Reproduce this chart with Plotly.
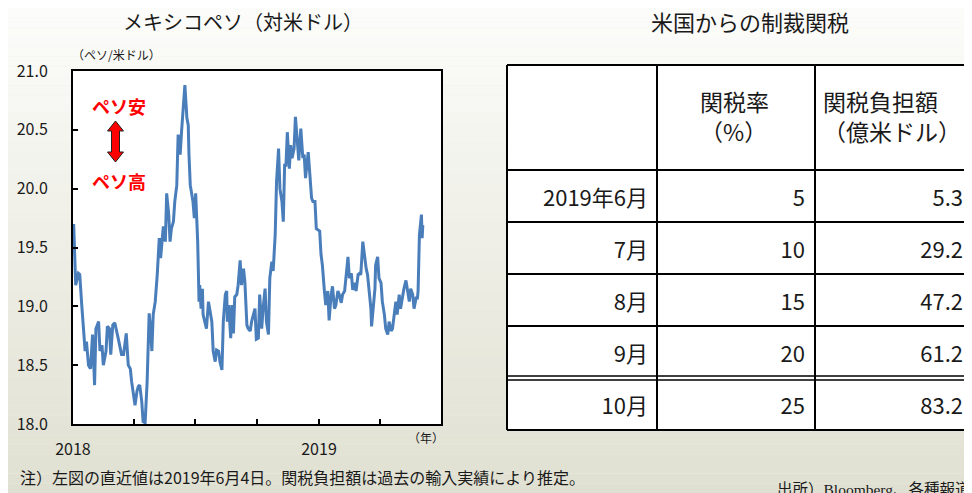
import plotly.graph_objects as go

# the page body adds an 8px margin; the figure fills the rest of the 972x493 window
OFF = 8
W, H = 972 - OFF, 493 - OFF

# ---------------- data ----------------
dates = [
    "2018-01-02", "2018-01-04", "2018-01-05", "2018-01-09", "2018-01-11", "2018-01-14", "2018-01-16",
    "2018-01-19", "2018-01-21", "2018-01-24", "2018-01-27", "2018-01-30", "2018-02-02", "2018-02-04",
    "2018-02-08", "2018-02-10", "2018-02-13", "2018-02-15", "2018-02-19", "2018-02-21", "2018-02-24",
    "2018-02-26", "2018-03-01", "2018-03-04", "2018-03-09", "2018-03-14", "2018-03-17", "2018-03-21",
    "2018-03-24", "2018-03-27", "2018-03-29", "2018-04-01", "2018-04-03", "2018-04-06", "2018-04-08",
    "2018-04-10", "2018-04-13", "2018-04-15", "2018-04-18", "2018-04-21", "2018-04-24", "2018-04-26",
    "2018-04-28", "2018-04-30", "2018-05-03", "2018-05-06", "2018-05-09", "2018-05-11", "2018-05-13",
    "2018-05-15", "2018-05-18", "2018-05-20", "2018-05-23", "2018-05-25", "2018-05-27", "2018-05-30",
    "2018-06-01", "2018-06-04", "2018-06-06", "2018-06-09", "2018-06-11", "2018-06-14", "2018-06-16",
    "2018-06-19", "2018-06-21", "2018-06-22", "2018-06-24", "2018-06-28", "2018-06-30", "2018-07-02",
    "2018-07-05", "2018-07-07", "2018-07-08", "2018-07-10", "2018-07-12", "2018-07-13", "2018-07-16",
    "2018-07-18", "2018-07-21", "2018-07-23", "2018-07-26", "2018-07-28", "2018-07-31", "2018-08-02",
    "2018-08-05", "2018-08-07", "2018-08-10", "2018-08-12", "2018-08-15", "2018-08-17", "2018-08-18",
    "2018-08-20", "2018-08-23", "2018-08-25", "2018-08-27", "2018-08-29", "2018-09-01", "2018-09-03",
    "2018-09-06", "2018-09-08", "2018-09-11", "2018-09-13", "2018-09-16", "2018-09-18", "2018-09-21",
    "2018-09-23", "2018-09-26", "2018-09-28", "2018-09-30", "2018-10-03", "2018-10-05", "2018-10-08",
    "2018-10-10", "2018-10-13", "2018-10-15", "2018-10-18", "2018-10-20", "2018-10-23", "2018-10-25",
    "2018-10-28", "2018-10-30", "2018-11-02", "2018-11-04", "2018-11-07", "2018-11-09", "2018-11-11",
    "2018-11-13", "2018-11-15", "2018-11-18", "2018-11-20", "2018-11-22", "2018-11-25", "2018-11-27",
    "2018-11-30", "2018-12-02", "2018-12-05", "2018-12-08", "2018-12-10", "2018-12-12", "2018-12-16",
    "2018-12-18", "2018-12-21", "2018-12-23", "2018-12-26", "2018-12-28", "2018-12-31",
    "2019-01-02", "2019-01-04", "2019-01-06", "2019-01-09", "2019-01-11", "2019-01-14", "2019-01-16",
    "2019-01-19", "2019-01-21", "2019-01-24", "2019-01-26", "2019-01-29", "2019-01-31", "2019-02-03",
    "2019-02-05", "2019-02-08", "2019-02-10", "2019-02-13", "2019-02-15", "2019-02-18", "2019-02-20",
    "2019-02-23", "2019-02-25", "2019-02-28", "2019-03-02", "2019-03-04", "2019-03-07", "2019-03-09",
    "2019-03-12", "2019-03-14", "2019-03-16", "2019-03-19", "2019-03-20", "2019-03-23", "2019-03-25",
    "2019-03-26", "2019-03-29", "2019-03-31", "2019-04-03", "2019-04-05", "2019-04-08", "2019-04-10",
    "2019-04-13", "2019-04-15", "2019-04-18", "2019-04-20", "2019-04-23", "2019-04-25", "2019-04-27",
    "2019-04-30", "2019-05-02", "2019-05-05", "2019-05-07", "2019-05-10", "2019-05-12", "2019-05-15",
    "2019-05-17", "2019-05-20", "2019-05-22", "2019-05-25", "2019-05-27", "2019-05-28", "2019-05-30",
    "2019-06-02", "2019-06-03", "2019-06-04",
]
mxn_per_usd = [
    19.70, 19.44, 19.18, 19.28, 19.27, 19.01, 18.81,
    18.62, 18.70, 18.50, 18.47, 18.76, 18.33, 18.81,
    18.87, 18.62, 18.67, 18.50, 18.62, 18.83, 18.81,
    18.59, 18.84, 18.86, 18.73, 18.59, 18.59, 18.77,
    18.50, 18.47, 18.36, 18.25, 18.16, 18.28, 18.32,
    18.33, 18.19, 18.02, 18.01, 18.36, 18.94, 18.81,
    18.62, 18.93, 19.04, 19.27, 19.58, 19.41, 19.55,
    19.68, 19.55, 19.96, 19.78, 19.55, 19.66, 19.72,
    19.89, 20.03, 20.46, 20.29, 20.48, 20.68, 20.88,
    20.60, 20.54, 20.30, 20.03, 19.89, 19.75, 19.96,
    19.55, 19.04, 19.18, 18.98, 19.15, 18.93, 18.87,
    18.81, 19.04, 18.98, 18.87, 18.62, 18.53, 18.63,
    18.62, 18.53, 18.46, 18.87, 19.10, 19.13, 18.87,
    19.01, 18.73, 19.01, 18.77, 19.08, 19.10, 19.18,
    19.39, 19.18, 19.32, 19.21, 18.84, 18.81, 18.79,
    18.87, 18.93, 18.98, 18.72, 18.73, 19.10, 18.81,
    18.98, 19.15, 18.87, 18.76, 19.24, 19.38, 19.30,
    19.61, 20.06, 20.34, 20.00, 19.89, 19.72, 20.20,
    20.20, 20.48, 20.17, 20.37, 20.26, 20.34, 20.61,
    20.37, 20.24, 20.51, 20.26, 20.29, 20.09, 20.31,
    20.12, 19.92, 19.89, 19.89, 19.66, 19.65,
    19.64, 19.44, 19.35, 19.13, 19.01, 19.13, 18.88,
    19.10, 19.17, 18.98, 19.01, 19.13, 19.10, 19.03,
    19.10, 19.13, 19.27, 19.42, 19.24, 19.28, 19.14,
    19.20, 19.13, 19.27, 19.28, 19.27, 19.55, 19.44,
    19.32, 19.27, 19.13, 18.98, 18.83, 19.04, 19.15,
    19.35, 19.42, 19.24, 19.20, 19.04, 18.93, 18.81,
    18.76, 18.87, 18.79, 18.81, 18.98, 19.04, 18.93,
    19.10, 18.98, 19.10, 19.15, 19.22, 19.15, 19.04,
    19.15, 19.10, 18.98, 19.07, 19.07, 19.13, 19.61,
    19.78, 19.58, 19.69,
]

x_tickvals = ["2018-01-01", "2018-04-01", "2018-07-01", "2018-10-01",
              "2019-01-01", "2019-04-01", "2019-07-01"]
x_ticktext = ["2018", "", "", "", "2019", "", ""]
y_tickvals = [18.0, 18.5, 19.0, 19.5, 20.0, 20.5, 21.0]

table_header = ["", "関税率<br>（%）", "関税負担額<br>（億米ドル）"]
table_months = ["2019年6月", "7月", "8月", "9月", "10月"]
tariff_rate_pct = [5, 10, 15, 20, 25]
tariff_burden_100m_usd = [5.3, 29.2, 47.2, 61.2, 83.2]

# ---------------- helpers (screen pixel -> paper) ----------------
def fx(p):
    return (p - OFF) / W

def fy(p):
    return 1 - (p - OFF) / H

JP = "Noto Sans CJK JP"
TXT = "#1a1a1a"

fig = go.Figure()

fig.add_trace(go.Scatter(
    x=dates, y=mxn_per_usd, mode="lines",
    line=dict(color="#4a7ebb", width=3),
    hoverinfo="x+y", showlegend=False,
))

# table (grid lines drawn as shapes so text can be vertically centred)
TB_L, TB_R = 507, 972
TB_T, HDR_B = 65, 170
ROW_H = 52
TXT_SHIFT = 11
COL_X = [507, 657, 815, 974]
fig.add_trace(go.Table(
    domain=dict(x=[fx(TB_L), 1.0], y=[0.0, fy(TB_T + TXT_SHIFT)]),
    columnwidth=[COL_X[i + 1] - COL_X[i] for i in range(3)],
    header=dict(
        values=table_header, height=HDR_B - TB_T, align="center",
        line=dict(color="rgba(0,0,0,0)", width=0), fill=dict(color="rgba(0,0,0,0)"),
        font=dict(family=JP, size=23, color=TXT),
    ),
    cells=dict(
        values=[table_months, tariff_rate_pct, tariff_burden_100m_usd],
        format=["", "", ".1f"],
        height=ROW_H, align="right",
        line=dict(color="rgba(0,0,0,0)", width=0), fill=dict(color="rgba(0,0,0,0)"),
        font=dict(family=JP, size=22, color=TXT),
    ),
))

# background gradient bands
shapes = []
N = 50
top = (252, 252, 250)
bot = (224, 224, 210)
for i in range(N):
    t = i / (N - 1)
    c = tuple(round(top[k] + (bot[k] - top[k]) * t) for k in range(3))
    shapes.append(dict(
        type="rect", xref="paper", yref="paper", layer="below",
        x0=-0.1, x1=1.1, y0=1 - (i + 1) / N, y1=1 - i / N,
        fillcolor="rgb(%d,%d,%d)" % c, line=dict(width=0),
    ))
# white plot area
shapes.append(dict(type="rect", xref="x domain", yref="y domain", layer="below",
                   x0=0, x1=1, y0=0, y1=1, fillcolor="white", line=dict(width=0)))

# table box and grid
n_rows = len(table_months)
TB_B = HDR_B + ROW_H * n_rows
shapes.append(dict(type="rect", xref="paper", yref="paper", layer="below",
                   x0=fx(TB_L), x1=1.0, y0=fy(TB_B), y1=fy(TB_T),
                   fillcolor="white", line=dict(width=0)))
LW = 2

def hline(y, x0=TB_L, x1=TB_R, w=LW):
    shapes.append(dict(type="line", xref="paper", yref="paper", x0=fx(x0), x1=fx(x1),
                       y0=fy(y), y1=fy(y), line=dict(color="black", width=w)))

def vline(x, y0=TB_T, y1=TB_B, w=LW):
    shapes.append(dict(type="line", xref="paper", yref="paper", x0=fx(x), x1=fx(x),
                       y0=fy(y0), y1=fy(y1), line=dict(color="black", width=w)))

hline(TB_T)
hline(HDR_B)
for r in range(1, n_rows):
    yy = HDR_B + ROW_H * r
    if r == n_rows - 1:
        hline(yy - 2, w=1.5)
        hline(yy + 2, w=1.5)
    else:
        hline(yy)
hline(TB_B)
for xx in COL_X[:3]:
    vline(xx)

# red double arrow
cx, ytop, ybot = 115.5, 121, 162
hw, sw, hh = 8, 4, 10
pts = [(cx, ytop), (cx + hw, ytop + hh), (cx + sw, ytop + hh), (cx + sw, ybot - hh),
       (cx + hw, ybot - hh), (cx, ybot), (cx - hw, ybot - hh), (cx - sw, ybot - hh),
       (cx - sw, ytop + hh), (cx - hw, ytop + hh)]
path = "M " + " L ".join("%f,%f" % (fx(a), fy(b)) for a, b in pts) + " Z"
shapes.append(dict(type="path", xref="paper", yref="paper", path=path,
                   fillcolor="#ff0000", line=dict(color="#222222", width=1)))

annotations = [
    dict(text="メキシコペソ（対米ドル）", x=fx(243), y=fy(21), font=dict(size=20)),
    dict(text="米国からの制裁関税", x=fx(750), y=fy(21), font=dict(size=22)),
    dict(text="（ペソ/米ドル）", x=fx(70), y=fy(55), xanchor="left", font=dict(size=12)),
    dict(text="<b>ペソ安</b>", x=fx(119), y=fy(106), font=dict(size=18, color="#ff0000")),
    dict(text="<b>ペソ高</b>", x=fx(119), y=fy(181), font=dict(size=18, color="#ff0000")),
    dict(text="（年）", x=fx(426), y=fy(437), font=dict(size=12)),
    dict(text="注）左図の直近値は2019年6月4日。関税負担額は過去の輸入実績により推定。",
         x=fx(18), y=fy(477), xanchor="left", font=dict(size=16)),
    dict(text="出所）Bloomberg、各種報道", x=fx(775), y=fy(489), xanchor="left",
         font=dict(size=15.5, family="Liberation Serif, Noto Sans CJK JP")),
]
for a in annotations:
    a.setdefault("xanchor", "center")
    a.update(xref="paper", yref="paper", yanchor="middle", showarrow=False)
    a["font"] = dict(dict(family=JP, color=TXT), **a["font"])

fig.update_layout(
    width=W, height=H,
    margin=dict(l=0, r=0, t=0, b=0, pad=0),
    paper_bgcolor="rgb(238,238,230)",
    plot_bgcolor="white",
    font=dict(family=JP, color=TXT),
    shapes=shapes,
    annotations=annotations,
    showlegend=False,
    xaxis=dict(
        domain=[fx(73), fx(441)], type="date", automargin=False,
        range=["2018-01-01", "2019-07-01"],
        tickmode="array", tickvals=x_tickvals, ticktext=x_ticktext,
        ticks="inside", ticklen=5, tickwidth=1.5, tickcolor="black",
        showline=True, linecolor="black", linewidth=2, mirror=True,
        showgrid=False, zeroline=False,
        tickfont=dict(family=JP, size=16, color=TXT),
        ticklabelstandoff=10,
    ),
    yaxis=dict(
        domain=[fy(424), fy(71)], range=[18, 21], automargin=False,
        tickmode="array", tickvals=y_tickvals, tickformat=".1f",
        ticks="inside", ticklen=5, tickwidth=1.5, tickcolor="black",
        showline=True, linecolor="black", linewidth=2, mirror=True,
        showgrid=False, zeroline=False,
        tickfont=dict(family=JP, size=16, color=TXT),
        ticklabelstandoff=20,
    ),
)

fig.write_html("out.html")
